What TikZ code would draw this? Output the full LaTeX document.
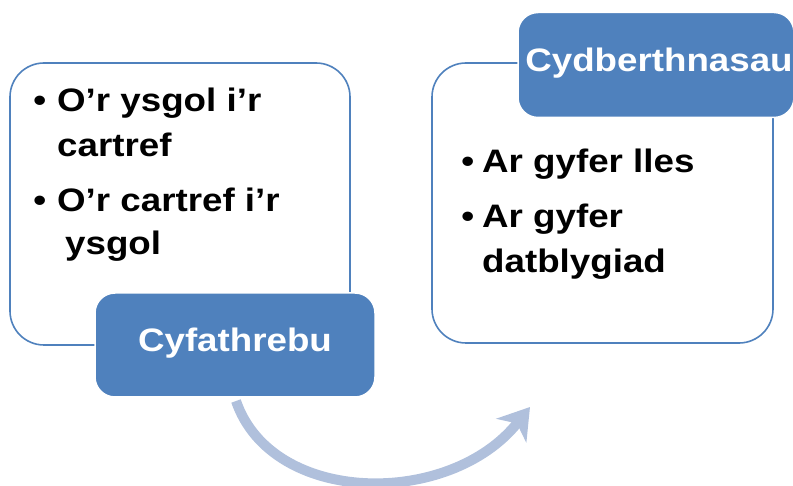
\documentclass[tikz,border=0pt]{standalone}
\usepackage{fontspec}
\setmainfont{Liberation Sans}[FakeStretch=1.13]
\usetikzlibrary{arrows.meta}
\definecolor{accent}{RGB}{79,129,189}
\definecolor{arrowc}{RGB}{176,192,220}
\begin{document}
\begin{tikzpicture}[x=1pt,y=-1pt,
  panel/.style={draw=accent,line width=1.6pt,fill=white,rounded corners=34pt},
  tag/.style={draw=white,line width=1.5pt,fill=accent,rounded corners=20pt},
  txt/.style={anchor=base west,inner sep=0pt,font=\fontsize{32.5}{38}\selectfont\bfseries},
  tagtxt/.style={inner sep=0pt,text=white,font=\fontsize{32.5}{38}\selectfont\bfseries}]
\useasboundingbox (0,0) rectangle (793,486);
% left panel
\draw[panel] (10,63) rectangle (350,345);
\node[tag,minimum width=280pt,minimum height=104pt] (tagL) at (235,345) {};
\node[tagtxt] (tagLt) at (235,343) {Cyfathrebu};
\node[txt] (l1) at (57,112) {\llap{•\hspace{11pt}}O’r ysgol i’r};
\node[txt] (l2) at (57,157) {cartref};
\node[txt] (l3) at (57,212) {\llap{•\hspace{11pt}}O’r cartref i’r};
\node[txt] (l4) at (65,255) {ysgol};
% right panel
\draw[panel] (432,63) rectangle (773,343);
\node[tag,minimum width=276pt,minimum height=105pt] (tagR) at (656,65) {};
\node[tagtxt] (tagRt) at (659,63) {Cydberthnasau};
\node[txt] (r1) at (482,173) {\llap{•\hspace{8pt}}Ar gyfer lles};
\node[txt] (r2) at (482,228) {\llap{•\hspace{8pt}}Ar gyfer};
\node[txt] (r3) at (482,273) {datblygiad};
% arrow
\coordinate (as) at (236,401);
\coordinate (ae) at (530,407);
\draw[arrowc,line width=10pt,-{Stealth[length=30pt,width=38pt,inset=9pt]}]
  (as) .. controls (272,506) and (450,508) .. (ae);
\end{tikzpicture}
\end{document}
